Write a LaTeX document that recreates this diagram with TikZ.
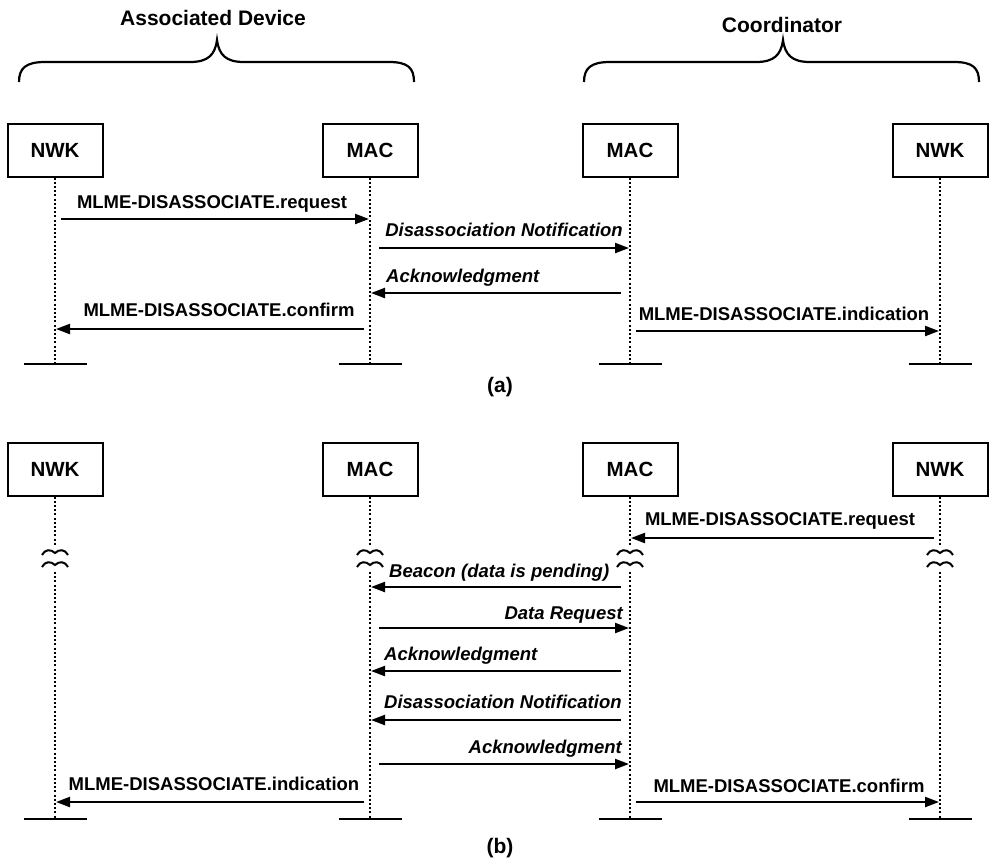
\documentclass[tikz,border=0pt]{standalone}
\usepackage{fontspec}
\setmainfont{Liberation Sans}
\usetikzlibrary{arrows.meta}
\begin{document}
\begin{tikzpicture}[x=1pt,y=-1pt,
  box/.style={draw,line width=2pt,minimum width=95pt,minimum height=53pt,inner sep=0pt,font=\fontsize{20.5}{24}\selectfont\bfseries},
  life/.style={line width=2pt,dash pattern=on 2pt off 2.2pt},
  msg/.style={line width=2.2pt,-{Triangle[length=14pt,width=10pt]},shorten <=6pt,shorten >=1pt},
  mm/.style={msg,shorten <=9pt},
  lbl/.style={font=\fontsize{18.5}{22}\selectfont\bfseries,inner sep=0pt,anchor=base},
  ilbl/.style={lbl,font=\fontsize{18.5}{22}\selectfont\bfseries\itshape},
  hdr/.style={font=\fontsize{21}{25}\selectfont\bfseries,inner sep=0pt,anchor=base},
  bar/.style={line width=2.2pt},
  brace/.style={line width=2.2pt},
  brk/.pic={\draw[line width=2pt] (-13,3) .. controls (-10,-3) and (-4,-3) .. (0,1) .. controls (4,-3) and (10,-3) .. (13,3);}
]
\path[use as bounding box] (0,0) rectangle (992,860);

% headers and braces
\node[hdr] (hA) at (213,25) {Associated Device};
\node[hdr] (hC) at (782,32) {Coordinator};
\draw[brace] (19,82) .. controls (19,68) and (26,62) .. (45,62) -- (190,62) .. controls (208,62) and (215,55) .. (217,40)
  .. controls (219,55) and (226,62) .. (244,62) -- (389,62) .. controls (408,62) and (414,68) .. (414,82);
\draw[brace] (584,82) .. controls (584,68) and (591,62) .. (610,62) -- (756,62) .. controls (774,62) and (781,55) .. (783,40)
  .. controls (785,55) and (792,62) .. (810,62) -- (954,62) .. controls (973,62) and (979,68) .. (979,82);

% ---------------- (a) ----------------
\node[box] (aN1) at (55,150) {NWK};
\node[box] (aM1) at (370,150) {MAC};
\node[box] (aM2) at (630,150) {MAC};
\node[box] (aN2) at (940,150) {NWK};
\foreach \n in {aN1,aM1,aM2,aN2}{
  \coordinate (\n e) at (\n |- 0,364);
  \draw[life] (\n) -- (\n e);
  \draw[bar] ([xshift=-31.5pt]\n e) -- ([xshift=31.5pt]\n e);
}
\draw[msg] (aN1 |- 0,219) -- (aM1 |- 0,219);
\node[lbl] (la1) at (212,208) {MLME-DISASSOCIATE.request};
\draw[mm] (aM1 |- 0,248) -- (aM2 |- 0,248);
\node[ilbl,anchor=base east] (la2) at (623,236) {Disassociation Notification};
\draw[mm] (aM2 |- 0,293) -- (aM1 |- 0,293);
\node[ilbl,anchor=base west] (la3) at (386,282) {Acknowledgment};
\draw[msg] (aM1 |- 0,329) -- (aN1 |- 0,329);
\node[lbl] (la4) at (219,316) {MLME-DISASSOCIATE.confirm};
\draw[msg] (aM2 |- 0,331) -- (aN2 |- 0,331);
\node[lbl] (la5) at (784,320) {MLME-DISASSOCIATE.indication};
\node[font=\fontsize{21}{25}\selectfont\bfseries,inner sep=0pt] (capa) at (500,387) {(a)};

% ---------------- (b) ----------------
\node[box] (bN1) at (55,469) {NWK};
\node[box] (bM1) at (370,469) {MAC};
\node[box] (bM2) at (630,469) {MAC};
\node[box] (bN2) at (940,469) {NWK};
\foreach \n in {bN1,bM1,bM2,bN2}{
  \coordinate (\n t) at (\n |- 0,545);
  \coordinate (\n u) at (\n |- 0,572);
  \coordinate (\n e) at (\n |- 0,819);
  \draw[life] (\n) -- (\n t);
  \draw[life] (\n u) -- (\n e);
  \pic at (\n |- 0,552) {brk};
  \pic at (\n |- 0,564) {brk};
  \draw[bar] ([xshift=-31.5pt]\n e) -- ([xshift=31.5pt]\n e);
}
\draw[msg] (bN2 |- 0,538) -- (bM2 |- 0,538);
\node[lbl] (lb1) at (780,525) {MLME-DISASSOCIATE.request};
\draw[mm] (bM2 |- 0,587) -- (bM1 |- 0,587);
\node[ilbl,anchor=base west] (lb2) at (389,577) {Beacon (data is pending)};
\draw[mm] (bM1 |- 0,628) -- (bM2 |- 0,628);
\node[ilbl,anchor=base east] (lb3) at (623,619) {Data Request};
\draw[mm] (bM2 |- 0,671) -- (bM1 |- 0,671);
\node[ilbl,anchor=base west] (lb4) at (384,660) {Acknowledgment};
\draw[mm] (bM2 |- 0,720) -- (bM1 |- 0,720);
\node[ilbl,anchor=base west] (lb5) at (384,708) {Disassociation Notification};
\draw[mm] (bM1 |- 0,764) -- (bM2 |- 0,764);
\node[ilbl,anchor=base east] (lb6) at (622,753) {Acknowledgment};
\draw[msg] (bM1 |- 0,802) -- (bN1 |- 0,802);
\node[lbl] (lb7) at (214,790) {MLME-DISASSOCIATE.indication};
\draw[msg] (bM2 |- 0,802) -- (bN2 |- 0,802);
\node[lbl] (lb8) at (789,792) {MLME-DISASSOCIATE.confirm};
\node[font=\fontsize{21}{25}\selectfont\bfseries,inner sep=0pt] (capb) at (500,848) {(b)};
\end{tikzpicture}
\end{document}
